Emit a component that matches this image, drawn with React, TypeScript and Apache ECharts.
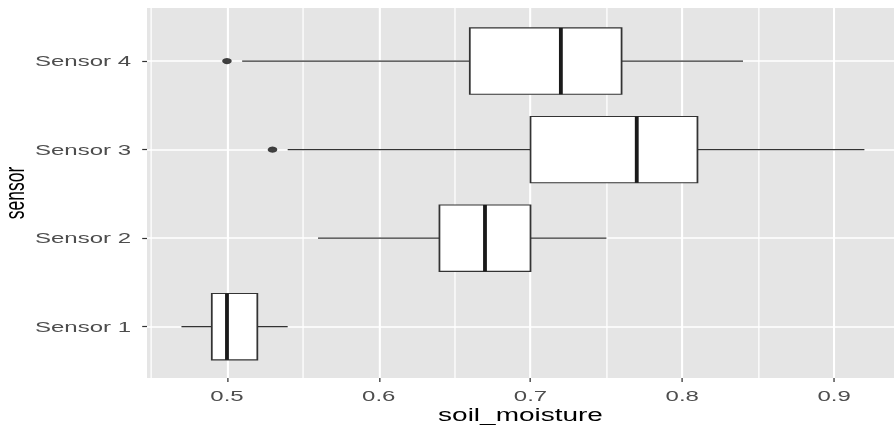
import React, { useEffect, useRef } from 'react';
import * as echarts from 'echarts';

// ---- data ----
const sensors = ['Sensor 1', 'Sensor 2', 'Sensor 3', 'Sensor 4'];
const whiskerLow = [0.47, 0.56, 0.54, 0.51];
const quartile1 = [0.49, 0.64, 0.70, 0.66];
const medians = [0.50, 0.67, 0.77, 0.72];
const quartile3 = [0.52, 0.70, 0.81, 0.76];
const whiskerHigh = [0.54, 0.75, 0.92, 0.84];
const outlierSensors = ['Sensor 3', 'Sensor 4'];
const outlierValues = [0.53, 0.50];
const xTicks = [0.5, 0.6, 0.7, 0.8, 0.9];
const xMinorTicks = [0.45, 0.55, 0.65, 0.75, 0.85];
const xMin = 0.4473;
const xMax = 0.9395;
const xTitle = 'soil_moisture';
const yTitle = 'sensor';

// the reference image is horizontally stretched; render narrower and stretch
const STRETCH = 1.6;
const W = Math.round(894 / STRETCH);
const SX = 894 / W;
const H = 426;

const FONT = '"Liberation Sans", Arial, Helvetica, sans-serif';

export default function App() {
  const ref = useRef<HTMLDivElement>(null);
  useEffect(() => {
    if (!ref.current) return;
    const chart = echarts.init(ref.current, undefined, { renderer: 'svg' });
    const panelLeft = 147 / SX;
    const boxData = sensors.map((s, i) => [
      i + 1,
      whiskerLow[i],
      quartile1[i],
      medians[i],
      quartile3[i],
      whiskerHigh[i],
    ]);
    const outlierData = outlierSensors.map((s, i) => [outlierValues[i], sensors.indexOf(s) + 1]);

    const gridLines: any[] = [];
    xMinorTicks.forEach((v) => gridLines.push({ xAxis: v, lineStyle: { color: '#fff', width: 0.8, type: 'solid' } }));
    xTicks.forEach((v) => gridLines.push({ xAxis: v, lineStyle: { color: '#fff', width: 1.3, type: 'solid' } }));
    sensors.forEach((s, i) => gridLines.push({ yAxis: i + 1, lineStyle: { color: '#fff', width: 1.6, type: 'solid' } }));

    chart.setOption({
      animation: false,
      grid: {
        left: panelLeft,
        right: 0,
        top: 8,
        bottom: 48,
        containLabel: false,
        outerBoundsMode: 'none',
        show: true,
        backgroundColor: '#E5E5E5',
        borderWidth: 0,
      },
      xAxis: {
        type: 'value',
        min: xMin,
        max: xMax,
        name: xTitle,
        nameLocation: 'middle',
        nameGap: 28,
        nameMoveOverlap: false,
        nameTextStyle: { color: '#000', fontSize: 17.5, fontFamily: FONT },
        axisLine: { show: false },
        splitLine: { show: false },
        axisTick: {
          show: true,
          length: 4,
          customValues: xTicks,
          lineStyle: { color: '#333', width: 0.8 },
        },
        axisLabel: {
          customValues: xTicks,
          margin: 10,
          color: '#4D4D4D',
          fontSize: 15,
          fontFamily: FONT,
          formatter: (v: number) => v.toFixed(1),
        },
      },
      yAxis: {
        type: 'value',
        min: 0.42,
        max: 4.6,
        name: yTitle,
        nameLocation: 'middle',
        nameGap: 74,
        nameMoveOverlap: false,
        nameRotate: 90,
        nameTextStyle: { color: '#000', fontSize: 17.5, fontFamily: FONT },
        axisLine: { show: false },
        splitLine: { show: false },
        axisTick: {
          show: true,
          length: 3,
          customValues: [1, 2, 3, 4],
          lineStyle: { color: '#333', width: 1.2 },
        },
        axisLabel: {
          customValues: [1, 2, 3, 4],
          margin: 10,
          color: '#4D4D4D',
          fontSize: 15,
          fontFamily: FONT,
          formatter: (v: number) => sensors[Math.round(v) - 1] ?? '',
        },
      },
      series: [
        {
          type: 'custom',
          z: 3,
          data: boxData,
          encode: { x: [1, 2, 3, 4, 5], y: 0 },
          renderItem: (params: any, api: any) => {
            const y = api.value(0);
            const lo = api.value(1);
            const a = api.value(2);
            const m = api.value(3);
            const b = api.value(4);
            const hi = api.value(5);
            const pLo = api.coord([lo, y]);
            const pA = api.coord([a, y]);
            const pM = api.coord([m, y]);
            const pB = api.coord([b, y]);
            const pHi = api.coord([hi, y]);
            const yTop = api.coord([a, y + 0.375])[1];
            const yBot = api.coord([a, y - 0.375])[1];
            return {
              type: 'group',
              children: [
                { type: 'line', shape: { x1: pLo[0], y1: pLo[1], x2: pA[0], y2: pA[1] }, style: { stroke: '#333', lineWidth: 1.3 } },
                { type: 'line', shape: { x1: pB[0], y1: pB[1], x2: pHi[0], y2: pHi[1] }, style: { stroke: '#333', lineWidth: 1.3 } },
                { type: 'rect', shape: { x: pA[0], y: yTop, width: pB[0] - pA[0], height: yBot - yTop }, style: { fill: '#fff', stroke: '#333', lineWidth: 1.1 } },
                { type: 'line', shape: { x1: pM[0], y1: yTop, x2: pM[0], y2: yBot }, style: { stroke: '#1A1A1A', lineWidth: 2.4 } },
              ],
            };
          },
        },
        {
          type: 'scatter',
          z: 4,
          data: outlierData,
          symbol: 'circle',
          symbolSize: 6,
          itemStyle: { color: '#111' },
          silent: true,
          markLine: {
            z: 1,
            silent: true,
            symbol: ['none', 'none'],
            label: { show: false },
            emphasis: { disabled: true },
            data: gridLines,
          },
        },
      ],
    });
    return () => chart.dispose();
  }, []);
  return (
    <div
      ref={ref}
      style={{
        position: 'fixed',
        left: 0,
        top: 0,
        width: W,
        height: H,
        transform: `scaleX(${SX})`,
        transformOrigin: '0 0',
      }}
    />
  );
}
